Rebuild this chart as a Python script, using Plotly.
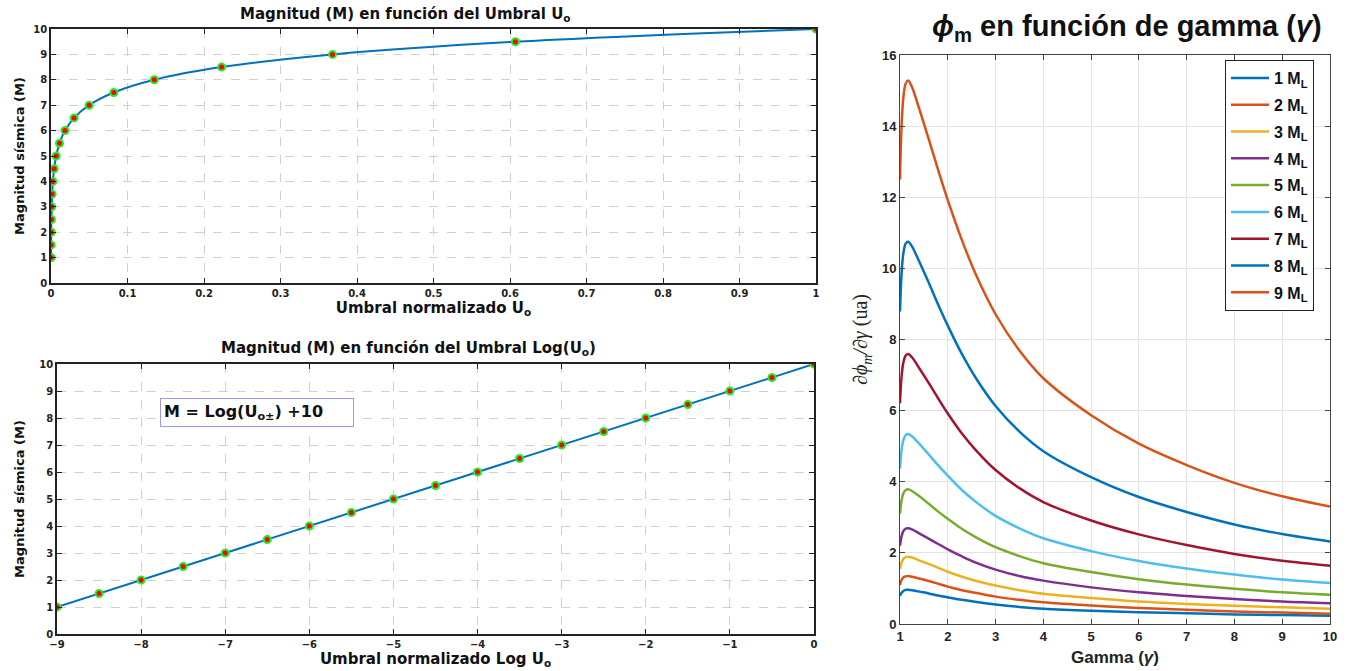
import plotly.graph_objects as go

# --- datos: magnitud vs umbral ---
mag = [1, 1.5, 2, 2.5, 3, 3.5, 4, 4.5, 5, 5.5, 6, 6.5, 7, 7.5, 8, 8.5, 9, 9.5, 10]
umbral = [0.000123, 0.000203, 0.000335, 0.000553, 0.000912, 0.0015, 0.00248, 0.00409,
          0.00674, 0.0111, 0.0183, 0.0302, 0.0498, 0.0821, 0.135, 0.223, 0.368, 0.607, 1.0]
log_umbral = [-9, -8.5, -8, -7.5, -7, -6.5, -6, -5.5, -5, -4.5, -4, -3.5, -3, -2.5, -2, -1.5, -1, -0.5, 0]

# --- datos: phi_m vs gamma ---
gamma = [1.0, 1.03, 1.07, 1.12, 1.17, 1.25, 1.4, 1.6, 1.8, 2, 2.3, 2.6, 3, 3.5, 4, 5, 6, 7, 8, 9, 10]
phi_1 = [0.79, 0.87, 0.93, 0.96, 0.96, 0.95, 0.91, 0.86, 0.80, 0.75, 0.68, 0.62, 0.55, 0.48, 0.43, 0.37, 0.33, 0.30, 0.27, 0.25, 0.23]
phi_2 = [1.10, 1.23, 1.31, 1.34, 1.35, 1.33, 1.28, 1.21, 1.13, 1.05, 0.95, 0.87, 0.77, 0.68, 0.61, 0.52, 0.45, 0.40, 0.35, 0.32, 0.29]
phi_3 = [1.55, 1.72, 1.83, 1.88, 1.89, 1.87, 1.79, 1.69, 1.58, 1.47, 1.33, 1.21, 1.08, 0.95, 0.85, 0.73, 0.63, 0.56, 0.51, 0.47, 0.43]
phi_4 = [2.20, 2.45, 2.61, 2.68, 2.69, 2.66, 2.55, 2.40, 2.25, 2.10, 1.90, 1.72, 1.53, 1.35, 1.22, 1.03, 0.89, 0.79, 0.70, 0.63, 0.58]
phi_5 = [3.10, 3.45, 3.67, 3.77, 3.79, 3.74, 3.60, 3.38, 3.16, 2.96, 2.67, 2.43, 2.16, 1.91, 1.71, 1.46, 1.26, 1.11, 0.99, 0.89, 0.82]
phi_6 = [4.37, 4.86, 5.17, 5.31, 5.34, 5.28, 5.07, 4.77, 4.46, 4.17, 3.76, 3.42, 3.04, 2.69, 2.41, 2.05, 1.77, 1.56, 1.39, 1.25, 1.15]
phi_7 = [6.21, 6.91, 7.35, 7.55, 7.59, 7.50, 7.20, 6.78, 6.34, 5.92, 5.35, 4.87, 4.33, 3.82, 3.43, 2.91, 2.52, 2.22, 1.97, 1.78, 1.64]
phi_8 = [8.79, 9.78, 10.42, 10.70, 10.75, 10.62, 10.20, 9.60, 8.98, 8.39, 7.58, 6.89, 6.13, 5.41, 4.86, 4.13, 3.57, 3.15, 2.80, 2.53, 2.32]
phi_9 = [12.5, 13.9, 14.8, 15.2, 15.28, 15.1, 14.5, 13.64, 12.76, 11.92, 10.78, 9.79, 8.71, 7.69, 6.91, 5.87, 5.07, 4.47, 3.97, 3.59, 3.30]
series_names = ["1 M<sub>L</sub>", "2 M<sub>L</sub>", "3 M<sub>L</sub>", "4 M<sub>L</sub>", "5 M<sub>L</sub>",
                "6 M<sub>L</sub>", "7 M<sub>L</sub>", "8 M<sub>L</sub>", "9 M<sub>L</sub>"]
series_colors = ["#0072BD", "#D95319", "#EDB120", "#7E2F8E", "#77AC30",
                 "#4DBEEE", "#A2142F", "#0072BD", "#D95319"]

# posiciones en pixeles de la ventana (el margen del body se quita al final)
W, H = 1352, 671
def px_x(a, b): return [a / W, b / W]
def px_y(top, bot): return [(H - bot) / H, (H - top) / H]
def pos_x(a): return a / W
def pos_y(a): return (H - a) / H

FONT = "DejaVu Sans"
marker = dict(color="red", size=7, line=dict(color="#22ee22", width=2))

fig = go.Figure()

# arriba izquierda
fig.add_trace(go.Scatter(x=umbral, y=mag, mode="lines+markers", line=dict(color="#0072BD", width=2, shape="spline"),
                         marker=marker, showlegend=False, xaxis="x", yaxis="y"))
# abajo izquierda
fig.add_trace(go.Scatter(x=log_umbral, y=mag, mode="lines+markers", line=dict(color="#0072BD", width=2),
                         marker=marker, showlegend=False, xaxis="x2", yaxis="y2"))
# derecha
for i, (vals, name, col) in enumerate(zip([phi_1, phi_2, phi_3, phi_4, phi_5, phi_6, phi_7, phi_8, phi_9],
                                         series_names, series_colors)):
    fig.add_trace(go.Scatter(x=gamma, y=vals, mode="lines", name="<b>" + name + "</b>",
                             line=dict(color=col, width=2.5, shape="spline", smoothing=1.0),
                             legendgroup=str(i), xaxis="x3", yaxis="y3"))

left_ax = dict(showline=True, linecolor="#222", linewidth=1.5, mirror="ticks", ticks="inside", ticklen=5,
               tickcolor="#222", showgrid=True, gridcolor="#d0d0d0", griddash="dash", zeroline=False,
               automargin=False, tickfont=dict(family=FONT, size=10, color="#222", weight="bold"))
right_ax = dict(showline=True, linecolor="#444", linewidth=1, mirror="ticks", ticks="inside", ticklen=5,
                tickcolor="#444", showgrid=True, gridcolor="#e4e4e4", zeroline=False, automargin=False,
                tickfont=dict(family="Liberation Sans", size=13, color="#222", weight="bold"))
title_font = dict(family=FONT, size=15, color="#111")
ytitle_font = dict(family=FONT, size=13, color="#111")

fig.update_layout(
    width=W, height=H, margin=dict(l=0, r=0, t=0, b=0),
    plot_bgcolor="white", paper_bgcolor="white",
    xaxis=dict(left_ax, domain=px_x(51, 816), anchor="y", range=[0, 1], dtick=0.1,
               title=dict(text="<b>Umbral normalizado U<sub>o</sub></b>", font=title_font, standoff=4)),
    yaxis=dict(left_ax, domain=px_y(29, 283), anchor="x", range=[0, 10], dtick=1,
               title=dict(text="<b>Magnitud sísmica (M)</b>", font=ytitle_font, standoff=6)),
    xaxis2=dict(left_ax, domain=px_x(57, 814), anchor="y2", range=[-9, 0], dtick=1,
                title=dict(text="<b>Umbral normalizado Log U<sub>o</sub></b>", font=title_font, standoff=4)),
    yaxis2=dict(left_ax, domain=px_y(364, 634), anchor="x2", range=[0, 10], dtick=1,
                title=dict(text="<b>Magnitud sísmica (M)</b>", font=ytitle_font, standoff=12)),
    xaxis3=dict(right_ax, domain=px_x(900, 1330), anchor="y3", range=[1, 10], dtick=1,
                title=dict(text="<b>Gamma (<i>γ</i>)</b>", font=dict(family="Liberation Sans", size=17, color="#222"), standoff=8)),
    yaxis3=dict(right_ax, domain=px_y(55, 624), anchor="x3", range=[0, 16], dtick=2,
                title=dict(text="<i>∂ϕ<sub>m</sub>/∂γ</i> (ua)", font=dict(family="Liberation Serif", size=20, color="#222"), standoff=8)),
    legend=dict(x=pos_x(1225), y=pos_y(60), xanchor="left", yanchor="top", bgcolor="white",
                bordercolor="#222", borderwidth=1, tracegroupgap=3, traceorder="grouped", itemwidth=38,
                font=dict(family="Liberation Sans", size=16, color="#111")),
)

annos = [
    dict(text="<b>Magnitud (M) en función del Umbral U<sub>o</sub></b>", x=pos_x(405), y=pos_y(14),
         font=dict(family=FONT, size=15, color="#111")),
    dict(text="<b>Magnitud (M) en función del Umbral Log(U<sub>o</sub>)</b>", x=pos_x(408), y=pos_y(348),
         font=dict(family=FONT, size=15, color="#111")),
    dict(text="<b><i>ϕ</i><sub>m</sub> en función de gamma (<i>γ</i>)</b>", x=pos_x(1127), y=pos_y(28),
         font=dict(family="Liberation Sans", size=29, color="#111")),
]
for a in annos:
    fig.add_annotation(xref="paper", yref="paper", showarrow=False, xanchor="center", yanchor="middle", **a)

fig.add_annotation(text="<b>M = Log(U<sub>o±</sub>) +10</b>", xref="x2", yref="y2", x=-6.62, y=8.22,
                   showarrow=False, font=dict(family=FONT, size=16, color="#111"),
                   bordercolor="#9a9af0", borderwidth=1, borderpad=3, bgcolor="white",
                   width=186, align="left")

fig.write_html("out.html", config={"displayModeBar": False},
               post_script="document.body.style.margin='0px';")
